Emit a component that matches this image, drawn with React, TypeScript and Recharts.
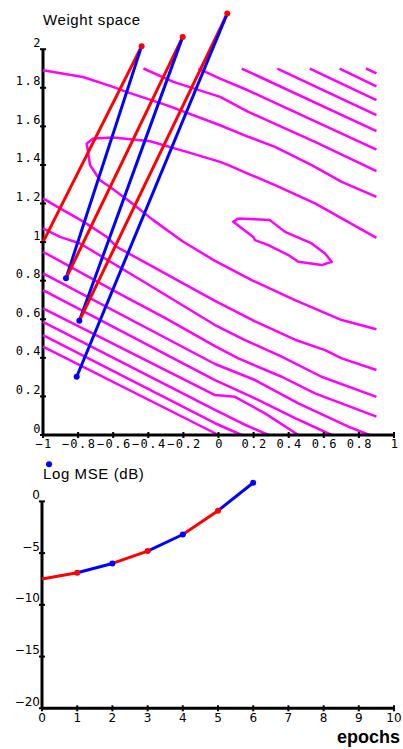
import React from "react";
import { ComposedChart, Line, XAxis, YAxis, ReferenceLine } from "recharts";

// ---- top panel: weight space ----
const weightXTicks = [-1, -0.8, -0.6, -0.4, -0.2, 0, 0.2, 0.4, 0.6, 0.8, 1];
const weightYTicks = [0, 0.2, 0.4, 0.6, 0.8, 1, 1.2, 1.4, 1.6, 1.8, 2];

// trajectory in (w0, w1); odd steps red (uphill), even steps blue
const trajW0 = [-1.0, -0.438, -0.869, -0.204, -0.793, 0.05, -0.808];
const trajW1 = [1.0, 2.016, 0.812, 2.064, 0.592, 2.185, 0.302];

// error-surface contour polylines, [w0, w1] pairs
const contours: number[][][] = [
  [[0.84, 1.9], [0.9, 1.875]],
  [[0.69, 1.9], [0.9, 1.808]],
  [[0.52, 1.9], [0.9, 1.736]],
  [[0.335, 1.9], [0.9, 1.658]],
  [[0.132, 1.9], [0.9, 1.575]],
  [[-0.115, 1.9], [0.009, 1.848], [0.16, 1.79], [0.9, 1.48]],
  [[-0.428, 1.9], [-0.257, 1.831], [0.009, 1.753], [0.17, 1.675], [0.36, 1.597], [0.55, 1.52], [0.9, 1.368]],
  [[-1.0, 1.891], [-0.772, 1.856], [-0.601, 1.805], [-0.525, 1.779], [-0.297, 1.71], [0.009, 1.606], [0.17, 1.546], [0.322, 1.494], [0.531, 1.399], [0.702, 1.312], [0.9, 1.235]],
  [[0.9, 1.022], [0.55, 1.201], [0.322, 1.295], [0.056, 1.399], [0.009, 1.416], [-0.181, 1.468], [-0.39, 1.523], [-0.599, 1.542], [-0.713, 1.537], [-0.751, 1.511], [-0.732, 1.399], [-0.675, 1.321], [-0.618, 1.286], [-0.504, 1.209], [-0.372, 1.114], [-0.201, 1.002], [-0.02, 0.903], [0.189, 0.803], [0.436, 0.699], [0.702, 0.596], [0.9, 0.548]],
  [[0.113, 1.123], [0.293, 1.114], [0.379, 1.053], [0.531, 0.993], [0.607, 0.941], [0.645, 0.898], [0.588, 0.881], [0.455, 0.898], [0.398, 0.933], [0.284, 0.984], [0.208, 1.01], [0.198, 1.027], [0.084, 1.105], [0.113, 1.123]],
  [[-1, 1.227], [-0.903, 1.175], [-0.77, 1.106], [-0.638, 1.028], [-0.581, 0.976], [-0.3, 0.835], [-0.02, 0.695], [0.208, 0.589], [0.436, 0.494], [0.607, 0.44], [0.702, 0.397], [0.9, 0.337]],
  [[-1, 1.071], [-0.903, 1.027], [-0.789, 0.993], [-0.4, 0.78], [-0.02, 0.57], [0.151, 0.492], [0.36, 0.406], [0.587, 0.302], [0.9, 0.198]],
  [[-1, 0.95], [-0.6, 0.75], [-0.3, 0.605], [-0.02, 0.461], [0.113, 0.397], [0.36, 0.302], [0.55, 0.216], [0.9, 0.095]],
  [[-1, 0.838], [-0.02, 0.368], [0.208, 0.285], [0.455, 0.164], [0.74, 0.043], [0.86, 0]],
  [[-1, 0.751], [-0.02, 0.285], [0.189, 0.198], [0.436, 0.087], [0.645, 0]],
  [[-1, 0.656], [-0.02, 0.207], [0.094, 0.198], [0.265, 0.112], [0.455, 0]],
  [[-1, 0.587], [-0.02, 0.13], [0.132, 0.061], [0.284, 0]],
  [[-1, 0.518], [-0.02, 0.061], [0.132, 0]],
  [[-1, 0.458], [0, 0]],
];

// ---- bottom panel: learning curve ----
const epochs = [0, 1, 2, 3, 4, 5, 6];
const logMse = [-7.5, -6.9, -6.0, -4.8, -3.2, -0.9, 1.8];
const epochTicks = [0, 1, 2, 3, 4, 5, 6, 7, 8, 9, 10];
const mseTicks = [-20, -15, -10, -5, 0];
const markerEpoch = [0.2];
const markerMse = [3.6];

const RED = "#ff0000";
const BLUE = "#0000ff";
const MAGENTA = "#ff00ff";

const fmt = (v: number) => {
  const a = Math.abs(Number(v.toFixed(2)));
  return (v < -1e-9 ? "\u2212" : "") + String(a);
};

function steps(xs: number[], ys: number[]) {
  return xs.slice(1).map((_, i) => ({
    color: i % 2 === 0 ? RED : BLUE,
    pts: [
      { x: xs[i], y: ys[i] },
      { x: xs[i + 1], y: ys[i + 1] },
    ],
  }));
}

const endDot = (color: string) => (p: any) =>
  p.index === 1 ? (
    <circle key={"d" + p.index} cx={p.cx} cy={p.cy} r={3} fill={color} stroke="none" />
  ) : (
    <g key={"d" + p.index} />
  );

const mono = { fontFamily: "'DejaVu Sans Mono', monospace", fontSize: 12, letterSpacing: 1.5, fill: "#000" };
const sans = { fontFamily: "'DejaVu Sans', sans-serif", fontSize: 12, fill: "#000" };

const WeightXTick = (p: any) => (
  <g>
    <line x1={p.x} x2={p.x} y1={p.y - 3} y2={p.y + 3} stroke="#000" strokeWidth={2} />
    <text x={p.x + 1} y={p.y + 12.5} textAnchor="middle" style={mono}>{fmt(p.payload.value)}</text>
  </g>
);

const WeightYTick = (p: any) => (
  <g>
    <line x1={p.x - 3} x2={p.x + 3} y1={p.y} y2={p.y} stroke="#000" strokeWidth={2} />
    <text x={p.x - 1} y={p.y - 2.5} textAnchor="end" style={mono}>{fmt(p.payload.value)}</text>
  </g>
);

const EpochTick = (p: any) => (
  <g>
    <line x1={p.x} x2={p.x} y1={p.y - 3} y2={p.y + 3} stroke="#000" strokeWidth={2} />
    <text x={p.x} y={p.y + 13.5} textAnchor="middle" style={sans}>{fmt(p.payload.value)}</text>
  </g>
);

const MseTick = (p: any) => (
  <g>
    <line x1={p.x - 3} x2={p.x + 3} y1={p.y} y2={p.y} stroke="#000" strokeWidth={2} />
    <text x={p.x - 2} y={p.y - 2.5} textAnchor="end" style={sans}>{fmt(p.payload.value)}</text>
  </g>
);

export default function App() {
  const trajSteps = steps(trajW0, trajW1);
  const mseSteps = steps(epochs, logMse);
  const marker = markerEpoch.map((x, i) => ({ x, y: markerMse[i] }));

  return (
    <div style={{ position: "absolute", left: 0, top: 0, width: 403, height: 749, background: "#fff" }}>
      <div style={{ position: "absolute", left: 0, top: 0 }}>
        <ComposedChart width={403} height={460} margin={{ top: 1, right: 9, bottom: 5, left: 0 }}>
          <XAxis
            type="number"
            dataKey="x"
            domain={[-1, 1]}
            ticks={weightXTicks}
            interval={0}
            height={20}
            tickSize={0}
            tickMargin={0}
            tickLine={false}
            axisLine={{ stroke: "#000", strokeWidth: 3 }}
            tick={WeightXTick}
          />
          <YAxis
            type="number"
            domain={[0, 2.25]}
            ticks={weightYTicks}
            interval={0}
            width={43}
            tickSize={0}
            tickMargin={0}
            tickLine={false}
            axisLine={false}
            tick={WeightYTick}
          />
          <ReferenceLine segment={[{ x: -1, y: 0 }, { x: -1, y: 2 }]} stroke="#000" strokeWidth={3} />
          {contours.map((c, i) => (
            <Line
              key={"c" + i}
              data={c.map(([x, y]) => ({ x, y }))}
              dataKey="y"
              type="linear"
              stroke={MAGENTA}
              strokeWidth={2.5}
              strokeLinejoin="round"
              dot={false}
              activeDot={false}
              isAnimationActive={false}
            />
          ))}
          {trajSteps.map((s, i) => (
            <Line
              key={"t" + i}
              data={s.pts}
              dataKey="y"
              type="linear"
              stroke={s.color}
              strokeWidth={3}
              dot={endDot(s.color)}
              activeDot={false}
              isAnimationActive={false}
            />
          ))}
        </ComposedChart>
      </div>

      <div style={{ position: "absolute", left: 0, top: 460 }}>
        <ComposedChart width={403} height={289} margin={{ top: 0, right: 9, bottom: 10.7, left: 0 }}>
          <XAxis
            type="number"
            dataKey="x"
            domain={[0, 10]}
            ticks={epochTicks}
            interval={0}
            height={30}
            tickSize={0}
            tickMargin={0}
            tickLine={false}
            axisLine={{ stroke: "#000", strokeWidth: 3 }}
            tick={EpochTick}
          />
          <YAxis
            type="number"
            domain={[-20, 4]}
            ticks={mseTicks}
            interval={0}
            width={42}
            tickSize={0}
            tickMargin={0}
            tickLine={false}
            axisLine={false}
            tick={MseTick}
          />
          <ReferenceLine segment={[{ x: 0, y: -20 }, { x: 0, y: 0 }]} stroke="#000" strokeWidth={3} />
          {mseSteps.map((s, i) => (
            <Line
              key={"m" + i}
              data={s.pts}
              dataKey="y"
              type="linear"
              stroke={s.color}
              strokeWidth={3}
              dot={endDot(s.color)}
              activeDot={false}
              isAnimationActive={false}
            />
          ))}
          <Line
            data={marker}
            dataKey="y"
            stroke="none"
            dot={{ r: 3, fill: BLUE, stroke: "none" }}
            activeDot={false}
            isAnimationActive={false}
          />
        </ComposedChart>
      </div>

      <svg width={403} height={749} style={{ position: "absolute", left: 0, top: 0, pointerEvents: "none" }}>
        <text x={43} y={25} style={{ fontFamily: "'Liberation Sans', Arial, sans-serif", fontSize: 15, letterSpacing: 0.6, fill: "#000" }}>
          Weight space
        </text>
        <text x={43} y={479} style={{ fontFamily: "'Liberation Sans', Arial, sans-serif", fontSize: 15, letterSpacing: 0.6, fill: "#000" }}>
          Log MSE (dB)
        </text>
        <text x={400} y={743} textAnchor="end" style={{ fontFamily: "'Liberation Sans', Arial, sans-serif", fontSize: 18, fontWeight: "bold", fill: "#000" }}>
          epochs
        </text>
      </svg>
    </div>
  );
}
